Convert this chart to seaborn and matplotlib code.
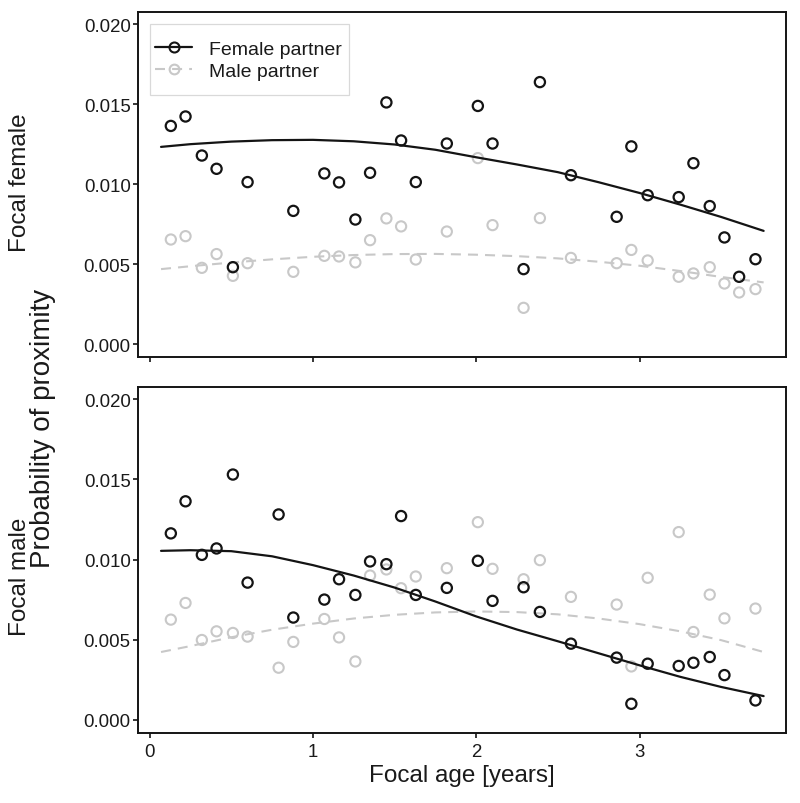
import matplotlib
matplotlib.use("Agg")
import matplotlib.pyplot as plt
import matplotlib.ticker as mticker
from matplotlib.lines import Line2D
from matplotlib.patches import Rectangle
import numpy as np
import pandas as pd
import seaborn as sns

# ---------------- data ----------------
age_top = [0.13, 0.22, 0.32, 0.41, 0.51, 0.60, 0.88, 1.07, 1.16, 1.26, 1.35, 1.45,
           1.54, 1.63, 1.82, 2.01, 2.10, 2.29, 2.39, 2.58, 2.86, 2.95, 3.05, 3.24,
           3.33, 3.43, 3.52, 3.61, 3.71]
top_female_partner = [0.01364, 0.01423, 0.01179, 0.01096, 0.00481, 0.01013, 0.00833,
                      0.01067, 0.01011, 0.00779, 0.01071, 0.01511, 0.01273, 0.01013,
                      0.01254, 0.01489, 0.01254, 0.00469, 0.01638, 0.01056, 0.00796,
                      0.01236, 0.00931, 0.00919, 0.01131, 0.00863, 0.00667, 0.00421,
                      0.00531]
top_male_partner = [0.00654, 0.00675, 0.00477, 0.00563, 0.00427, 0.00506, 0.00452,
                    0.00552, 0.00548, 0.00511, 0.00650, 0.00786, 0.00736, 0.00529,
                    0.00704, 0.01163, 0.00744, 0.00227, 0.00788, 0.00539, 0.00506,
                    0.00589, 0.00523, 0.00421, 0.00442, 0.00481, 0.00379, 0.00323,
                    0.00344]

age_bottom = [0.13, 0.22, 0.32, 0.41, 0.51, 0.60, 0.79, 0.88, 1.07, 1.16, 1.26, 1.35,
              1.45, 1.54, 1.63, 1.82, 2.01, 2.10, 2.29, 2.39, 2.58, 2.86, 2.95, 3.05,
              3.24, 3.33, 3.43, 3.52, 3.71]
bottom_female_partner = [0.01163, 0.01363, 0.01029, 0.01069, 0.01530, 0.00856, 0.01281,
                         0.00638, 0.00750, 0.00877, 0.00779, 0.00988, 0.00971, 0.01271,
                         0.00779, 0.00823, 0.00992, 0.00742, 0.00827, 0.00673, 0.00475,
                         0.00388, 0.00100, 0.00350, 0.00336, 0.00356, 0.00392, 0.00279,
                         0.00121]
bottom_male_partner = [0.00625, 0.00729, 0.00498, 0.00552, 0.00542, 0.00519, 0.00325,
                       0.00486, 0.00629, 0.00514, 0.00364, 0.00900, 0.00938, 0.00821,
                       0.00894, 0.00946, 0.01233, 0.00942, 0.00877, 0.00996, 0.00767,
                       0.00719, 0.00333, 0.00886, 0.01171, 0.00548, 0.00781, 0.00633,
                       0.00694]

# fitted curves, read at these ages
fit_age = [0.07, 0.25, 0.50, 0.75, 1.00, 1.25, 1.50, 1.75, 2.00, 2.25, 2.50, 2.75,
           3.00, 3.25, 3.50, 3.76]
fit_top_female = [0.01233, 0.01250, 0.01266, 0.01275, 0.01277, 0.01268, 0.01248, 0.01215,
                  0.01168, 0.01123, 0.01075, 0.01012, 0.00945, 0.00872, 0.00795, 0.00708]
fit_top_male = [0.00469, 0.00487, 0.00510, 0.00530, 0.00546, 0.00557, 0.00563, 0.00564,
                0.00559, 0.00550, 0.00536, 0.00515, 0.00490, 0.00457, 0.00420, 0.00386]
fit_bottom_female = [0.01054, 0.01058, 0.01052, 0.01020, 0.00965, 0.00900, 0.00825, 0.00738,
                     0.00645, 0.00563, 0.00490, 0.00415, 0.00340, 0.00268, 0.00205, 0.00148]
fit_bottom_male = [0.00423, 0.00460, 0.00515, 0.00562, 0.00600, 0.00632, 0.00655, 0.00670,
                   0.00676, 0.00672, 0.00658, 0.00632, 0.00597, 0.00552, 0.00497, 0.00423]

y_ticks = [0.000, 0.005, 0.010, 0.015, 0.020]
x_ticks = [0, 1, 2, 3]
legend_labels = ["Female partner", "Male partner"]
panel_labels = ["Focal female", "Focal male"]

# ---------------- styling ----------------
BLACK = "#141414"
GRAY = "#c8c8c8"
DASH = (0, (4.8, 3.4))

sns.set_theme(style="ticks")
plt.rcParams["font.family"] = ["Liberation Sans", "DejaVu Sans"]
plt.rcParams["text.color"] = "#1a1a1a"

fig = plt.figure(figsize=(8, 8.04), dpi=100)
ax_top = fig.add_axes([0.1719, 0.5544, 0.8106, 0.4298])
ax_bot = fig.add_axes([0.1719, 0.0871, 0.8106, 0.4307])

panels = [
    (ax_top, age_top, top_female_partner, top_male_partner, fit_top_female, fit_top_male),
    (ax_bot, age_bottom, bottom_female_partner, bottom_male_partner, fit_bottom_female, fit_bottom_male),
]

for ax, age, fem, mal, ffem, fmal in panels:
    pts = pd.DataFrame({"age": age, "female": fem, "male": mal})
    fit = pd.DataFrame({"age": fit_age, "female": ffem, "male": fmal})
    sns.lineplot(data=fit, x="age", y="male", ax=ax, color=GRAY, linewidth=1.5,
                 linestyle=DASH, errorbar=None, zorder=1)
    sns.scatterplot(data=pts, x="age", y="male", ax=ax, color=GRAY, facecolor="none",
                    edgecolor=GRAY, s=54, linewidth=1.5, zorder=2)
    sns.lineplot(data=fit, x="age", y="female", ax=ax, color=BLACK, linewidth=1.6,
                 errorbar=None, zorder=3)
    sns.scatterplot(data=pts, x="age", y="female", ax=ax, color=BLACK, facecolor="none",
                    edgecolor=BLACK, s=54, linewidth=1.6, zorder=4)

    ax.set_xlim(-0.074, 3.897)
    ax.set_ylim(-0.00082, 0.02078)
    ax.set_yticks(y_ticks)
    ax.set_xticks(x_ticks)
    ax.yaxis.set_major_formatter(mticker.FormatStrFormatter("%.3f"))
    ax.set_ylabel("")
    ax.set_xlabel("")
    for sp in ax.spines.values():
        sp.set_visible(True)
        sp.set_color(BLACK)
        sp.set_linewidth(1.4)
    ax.tick_params(axis="both", direction="out", length=3.4, width=1.2, colors=BLACK,
                   labelsize=13.4, labelcolor="#1a1a1a")
    ax.tick_params(axis="y", pad=1.5)
    ax.tick_params(axis="x", pad=3.5)
    ax.set_facecolor("white")

ax_top.tick_params(axis="x", labelbottom=False)
ax_bot.set_xlabel("Focal age [years]", fontsize=17.5, labelpad=3, color="#1a1a1a")

# legend (top panel)
handles = [
    Line2D([], [], color=BLACK, lw=1.6, marker="o", mfc="none", mec=BLACK, ms=7.2, mew=1.5),
    Line2D([], [], color=GRAY, lw=1.5, ls=DASH, marker="o", mfc="none", mec=GRAY, ms=7.0, mew=1.5),
]
ax_top.add_patch(Rectangle((0.0193, 0.759), 0.3073, 0.2054, transform=ax_top.transAxes,
                           facecolor="white", edgecolor="#d9d9d9", linewidth=0.9, zorder=5))
leg = ax_top.legend(handles, legend_labels, loc="upper left", bbox_to_anchor=(0.027, 0.918),
                    frameon=False, fontsize=14, borderpad=0, borderaxespad=0,
                    labelspacing=0.23, handlelength=1.9, handletextpad=0.9)
leg.set_zorder(6)

# panel / shared labels
fig.text(20 / 800, 1 - 183 / 804, panel_labels[0], rotation=90, ha="center", va="center",
         fontsize=17.5, color="#1a1a1a")
fig.text(20 / 800, 1 - 577 / 804, panel_labels[1], rotation=90, ha="center", va="center",
         fontsize=17.5, color="#1a1a1a")
fig.text(43 / 800, 1 - 428 / 804, "Probability of proximity", rotation=90, ha="center",
         va="center", fontsize=20, color="#1a1a1a")

fig.savefig("out.png", dpi=100, facecolor="white")
